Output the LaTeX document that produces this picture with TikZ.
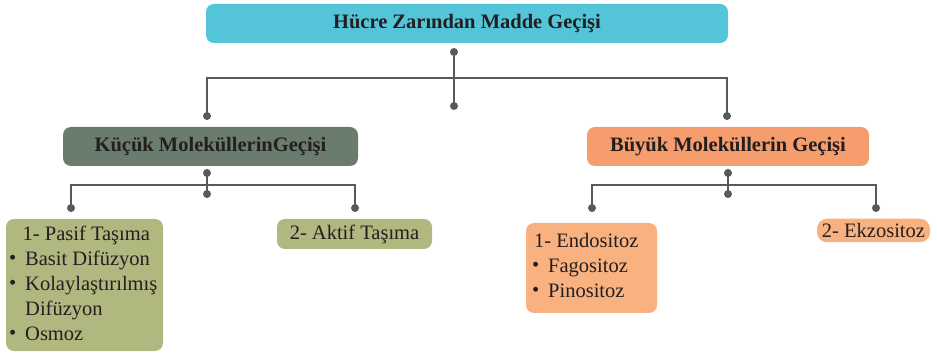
\documentclass[tikz,border=0pt]{standalone}
\usepackage{fontspec}
\setmainfont{Liberation Serif}
\definecolor{cyanbox}{RGB}{84,196,216}
\definecolor{greenbox}{RGB}{106,124,110}
\definecolor{olivebox}{RGB}{176,183,127}
\definecolor{orangebox}{RGB}{245,157,108}
\definecolor{lorangebox}{RGB}{249,177,128}
\definecolor{lnc}{RGB}{88,89,91}
\definecolor{txt}{RGB}{35,31,32}
\newcommand\mybul{\makebox[16pt][l]{\raisebox{0.05em}{\scalebox{1.0}{\textbullet}}}}
\begin{document}
\begin{tikzpicture}[x=1pt,y=-1pt,
  box/.style={rounded corners=8pt, inner sep=0pt, text=txt, font=\fontsize{20.5}{25}\selectfont},
  hdr/.style={box, font=\fontsize{20.5}{25}\selectfont\bfseries},
  conn/.style={line width=2.5pt, draw=lnc},
  ln/.style={anchor=base west, inner sep=0pt, text=txt, font=\fontsize{20.5}{25}\selectfont}]
\useasboundingbox (0,0) rectangle (937,355);

% boxes
\node[hdr, fill=cyanbox, minimum width=522pt, minimum height=39pt] (top) at (467,23.5) {Hücre Zarından Madde Geçişi};
\node[hdr, fill=greenbox, minimum width=295pt, minimum height=39pt] (kucuk) at (210.5,146.5) {Küçük MoleküllerinGeçişi};
\node[hdr, fill=orangebox, minimum width=282pt, minimum height=39pt] (buyuk) at (728,146.5) {Büyük Moleküllerin Geçişi};
\node[box, fill=olivebox, minimum width=157pt, minimum height=132pt] (pasif) at (84.5,285) {};
\node[box, fill=olivebox, minimum width=155pt, minimum height=30pt] (aktif) at (354.5,234) {2- Aktif Taşıma};
\node[box, fill=lorangebox, minimum width=131pt, minimum height=90pt] (endo) at (591.5,268) {};
\node[box, fill=lorangebox, rounded corners=10pt, minimum width=113pt, minimum height=23.5pt] (ekzo) at (873.5,230.5) {2- Ekzositoz};

% list texts
\node[ln] (p1) at (22.5,240.5) {1- Pasif Taşıma};
\node[ln] (p2) at (9,265.5) {\mybul Basit Difüzyon};
\node[ln] (p3) at (9,290.5) {\mybul Kolaylaştırılmış};
\node[ln] (p4) at (25,315.5) {Difüzyon};
\node[ln] (p5) at (9,340.5) {\mybul Osmoz};
\node[ln] (e1) at (534,248) {1- Endositoz};
\node[ln] (e2) at (532,273) {\mybul Fagositoz};
\node[ln] (e3) at (532,298) {\mybul Pinositoz};

% connector points
\coordinate (t1) at (454,52);
\coordinate (t2) at (454,106);
\coordinate (tbar) at (454,78);
\coordinate (tl) at (207,116);
\coordinate (tr) at (727,116);
\coordinate (k1) at (207,173);
\coordinate (k2) at (207,194);
\coordinate (kbar) at (207,185);
\coordinate (kl) at (71,208);
\coordinate (kr) at (355,208);
\coordinate (b1) at (728,173);
\coordinate (b2) at (728,194);
\coordinate (bbar) at (728,185);
\coordinate (bl) at (592,208);
\coordinate (br) at (876,208);

% connectors
\draw[conn] (t1) -- (t2);
\draw[conn] (tl) -- (tl |- tbar) -- (tr |- tbar) -- (tr);
\draw[conn] (k1) -- (k2);
\draw[conn] (kl) -- (kl |- kbar) -- (kr |- kbar) -- (kr);
\draw[conn] (b1) -- (b2);
\draw[conn] (bl) -- (bl |- bbar) -- (br |- bbar) -- (br);

\foreach \p in {t1,t2,tl,tr,k1,k2,kl,kr,b1,b2,bl,br}
  \fill[lnc] (\p) circle (4pt);
\end{tikzpicture}
\end{document}
